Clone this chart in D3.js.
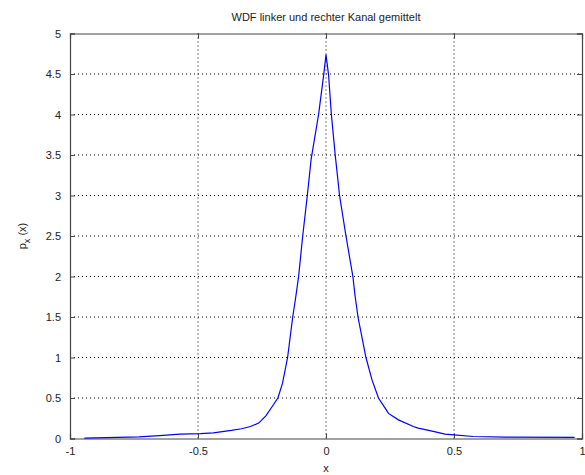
<!DOCTYPE html>
<html>
<head>
<meta charset="utf-8">
<script src="https://cdn.jsdelivr.net/npm/d3@7"></script>
<style>
  body { margin: 0; background: #fff; }
  svg text { font-family: "Liberation Sans", Arial, sans-serif; font-size: 11px; fill: #222; }
  .axis path, .axis line { stroke: #444; }
</style>
</head>
<body>
<svg id="chart" width="585" height="475"></svg>
<script>
// values
var xValues = [-0.944, -0.73, -0.65, -0.57, -0.49, -0.44, -0.37, -0.33, -0.295, -0.263,
    -0.235, -0.21, -0.188, -0.17, -0.15, -0.13, -0.118, -0.107, -0.091, -0.073,
    -0.058, -0.029, -0.009, 0.0, 0.010, 0.021, 0.036, 0.053, 0.078,
    0.105, 0.114, 0.125, 0.156, 0.18, 0.205, 0.231, 0.244, 0.283, 0.341,
    0.36, 0.419, 0.465, 0.5, 0.575, 0.7, 0.971]
var yValues = [0.005, 0.02, 0.035, 0.055, 0.06, 0.07, 0.1, 0.12, 0.148, 0.19,
    0.28, 0.395, 0.5, 0.68, 1.0, 1.5, 1.75, 2.0, 2.5, 3.0,
    3.45, 4.0, 4.49, 4.74, 4.49, 4.0, 3.5, 3.0, 2.5,
    2.0, 1.75, 1.5, 1.0, 0.72, 0.5, 0.375, 0.31, 0.23, 0.148,
    0.128, 0.087, 0.054, 0.045, 0.025, 0.018, 0.015]
var xTicks = [-1, -0.5, 0, 0.5, 1]
var yTicks = [0, 0.5, 1, 1.5, 2, 2.5, 3, 3.5, 4, 4.5, 5]
var titleText = "WDF linker und rechter Kanal gemittelt"

var svg = d3.select("#chart")
const margins = {top: 33.5, right: 3, bottom: 36.5, left: 70}
var width = 585 - margins.left - margins.right
var height = 475 - margins.top - margins.bottom

var xScale = d3.scaleLinear().domain([-1, 1]).range([0, width])
var yScale = d3.scaleLinear().domain([0, 5]).range([height, 0])

var g = svg.append("g")
    .attr("transform", "translate(" + margins.left + "," + margins.top + ")")

// dotted grid
g.selectAll("line.vgrid").data(xTicks.slice(1, -1)).enter()
    .append("line").attr("class", "vgrid")
    .attr("x1", d => xScale(d)).attr("x2", d => xScale(d))
    .attr("y1", 0).attr("y2", height)
    .attr("stroke", "#000").attr("stroke-dasharray", "1,3")
g.selectAll("line.hgrid").data(yTicks.slice(1, -1)).enter()
    .append("line").attr("class", "hgrid")
    .attr("y1", d => yScale(d)).attr("y2", d => yScale(d))
    .attr("x1", 0).attr("x2", width)
    .attr("stroke", "#000").attr("stroke-dasharray", "1,3")

// axes with inward ticks, box on all sides
var plain = d => String(d)
g.append("g").attr("class", "axis")
    .attr("transform", "translate(0," + height + ")")
    .call(d3.axisBottom(xScale).tickValues(xTicks).tickSize(-5).tickPadding(9).tickFormat(plain))
g.append("g").attr("class", "axis")
    .call(d3.axisLeft(yScale).tickValues(yTicks).tickSize(-5).tickPadding(9).tickFormat(plain))
g.append("g").attr("class", "axis")
    .call(d3.axisTop(xScale).tickValues(xTicks).tickSize(-5).tickFormat(""))
g.append("g").attr("class", "axis")
    .attr("transform", "translate(" + width + ",0)")
    .call(d3.axisRight(yScale).tickValues(yTicks).tickSize(-5).tickFormat(""))
g.selectAll(".axis path").attr("stroke-width", 1.2)

// curve
var points = xValues.map((x, i) => [x, yValues[i]])
g.append("path")
    .datum(points)
    .attr("fill", "none")
    .attr("stroke", "#0000ff")
    .attr("stroke-width", 1.2)
    .attr("d", d3.line().x(d => xScale(d[0])).y(d => yScale(d[1])))

// labels
svg.append("text")
    .attr("x", margins.left + width / 2).attr("y", 21)
    .attr("text-anchor", "middle")
    .text(titleText)

svg.append("text")
    .attr("x", margins.left + width / 2).attr("y", 472)
    .attr("text-anchor", "middle")
    .text("x")

var ylab = svg.append("text")
    .attr("transform", "translate(26," + (margins.top + height / 2) + ") rotate(-90)")
    .attr("text-anchor", "middle")
ylab.append("tspan").text("p")
ylab.append("tspan").attr("dy", 4).attr("font-size", "9px").text("x")
ylab.append("tspan").attr("dy", -4).text(" (x)")
</script>
</body>
</html>
